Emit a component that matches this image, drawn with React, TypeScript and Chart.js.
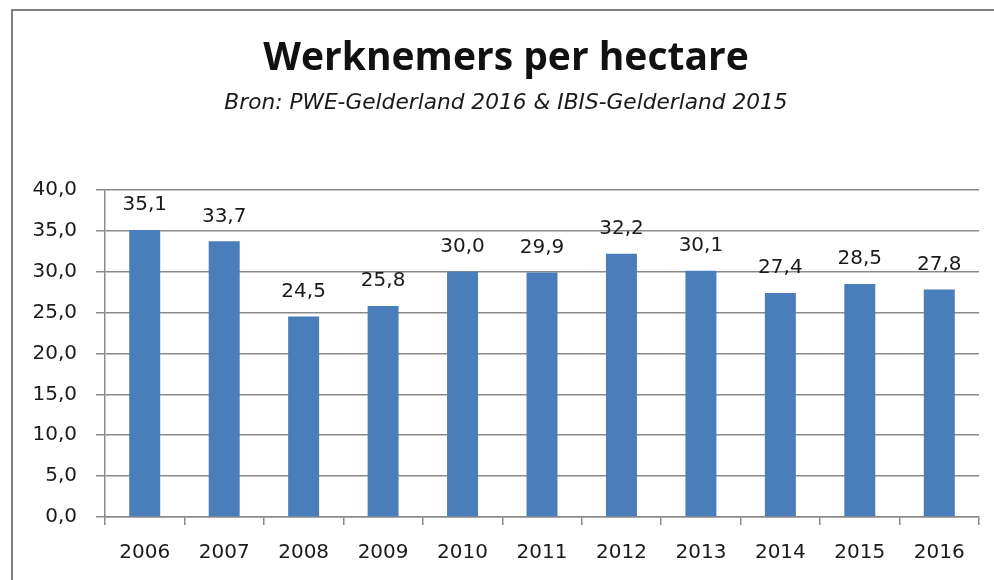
import React, { useEffect, useRef } from "react";
import { Chart, registerables } from "chart.js";

Chart.register(...registerables);

const years = ["2006", "2007", "2008", "2009", "2010", "2011", "2012", "2013", "2014", "2015", "2016"];
const workersPerHectare = [35.1, 33.7, 24.5, 25.8, 30.0, 29.9, 32.2, 30.1, 27.4, 28.5, 27.8];
const yMin = 0;
const yMax = 40;
const yStep = 5;
const titleText = "Werknemers per hectare";
const subtitleText = "Bron: PWE-Gelderland 2016 & IBIS-Gelderland 2015";

const LABEL_FONT = "'DejaVu Sans', sans-serif";
const TITLE_FONT = "'Open Sans', 'Noto Sans', sans-serif";
const SUB_FONT = "'DejaVu Sans', sans-serif";
const GRID = "#8a8a8a";

const fmt = (v: number) => v.toFixed(1).replace(".", ",");

const framePlugin = {
  id: "frame",
  beforeDraw(chart: any) {
    const ctx = chart.ctx;
    ctx.save();
    ctx.fillStyle = "#ffffff";
    ctx.fillRect(0, 0, chart.width, chart.height);
    ctx.strokeStyle = "#7f7f7f";
    ctx.lineWidth = 2;
    ctx.strokeRect(12, 10, 1000, 620);
    ctx.restore();
  },
};

const dataLabelPlugin = {
  id: "dataLabels",
  afterDatasetsDraw(chart: any) {
    const ctx = chart.ctx;
    const meta = chart.getDatasetMeta(0);
    const data = chart.data.datasets[0].data as number[];
    ctx.save();
    ctx.font = `20px ${LABEL_FONT}`;
    ctx.fillStyle = "#1a1a1a";
    ctx.textAlign = "center";
    ctx.textBaseline = "middle";
    meta.data.forEach((bar: any, i: number) => {
      ctx.fillText(fmt(data[i]), bar.x, bar.y - 25);
    });
    ctx.restore();
  },
};

export default function App() {
  const ref = useRef<HTMLCanvasElement>(null);
  useEffect(() => {
    if (!ref.current) return;
    const chart = new Chart(ref.current, {
      type: "bar",
      data: {
        labels: years,
        datasets: [
          {
            data: workersPerHectare,
            backgroundColor: "#4a7ebb",
            borderWidth: 0,
            barPercentage: 0.39,
            categoryPercentage: 1,
          },
        ],
      },
      options: {
        animation: false,
        responsive: false,
        maintainAspectRatio: false,
        layout: { padding: { left: 33, right: 15, top: 10, bottom: 0 } },
        plugins: {
          legend: { display: false },
          tooltip: { enabled: false },
          title: {
            display: true,
            text: titleText,
            color: "#111111",
            font: { family: TITLE_FONT, size: 39, weight: "bold", lineHeight: 1.2 },
            padding: { top: 25, bottom: 0 },
          },
          subtitle: {
            display: true,
            text: subtitleText,
            color: "#1a1a1a",
            font: { family: SUB_FONT, size: 21.7, style: "italic", lineHeight: 1.2 },
            padding: { top: 9, bottom: 73 },
          },
        },
        scales: {
          x: {
            offset: true,
            grid: {
              display: true,
              drawOnChartArea: false,
              drawTicks: true,
              tickLength: 8,
              color: GRID,
              lineWidth: 1.5,
              offset: true,
            },
            border: { display: true, color: GRID, width: 1.5 },
            ticks: {
              color: "#1a1a1a",
              font: { family: LABEL_FONT, size: 20 },
              padding: 16,
              maxRotation: 0,
              autoSkip: false,
            },
            afterFit: (s: any) => {
              s.height = 63;
            },
          },
          y: {
            min: yMin,
            max: yMax,
            grid: {
              color: GRID,
              lineWidth: 1.5,
              tickLength: 9,
              drawTicks: true,
            },
            border: { display: true, color: GRID, width: 1.5 },
            ticks: {
              stepSize: yStep,
              color: "#1a1a1a",
              font: { family: LABEL_FONT, size: 20 },
              padding: 19,
              callback: (v: any) => fmt(Number(v)),
            },
            afterFit: (s: any) => {
              s.width = 72;
            },
          },
        },
      },
      plugins: [framePlugin, dataLabelPlugin],
    });
    return () => chart.destroy();
  }, []);
  return (
    <div style={{ position: "fixed", left: 0, top: 0, width: 994, height: 580 }}>
      <canvas ref={ref} width={994} height={580} style={{ width: 994, height: 580, display: "block" }} />
    </div>
  );
}
